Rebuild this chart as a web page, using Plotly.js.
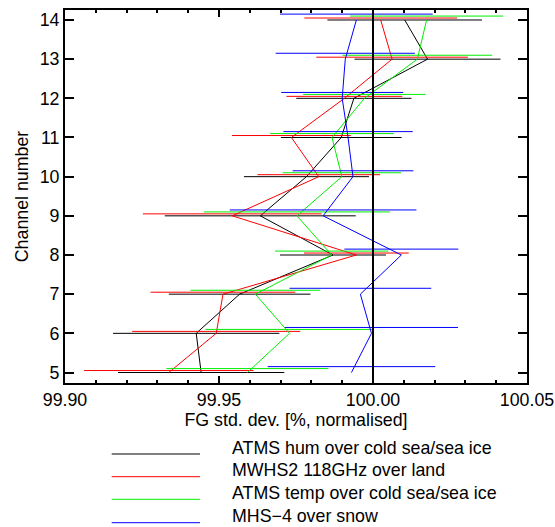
<!DOCTYPE html>
<html>
<head>
<meta charset="utf-8">
<script src="https://cdn.plot.ly/plotly-3.0.1.min.js"></script>
<style>
html,body{margin:0;padding:0;background:#fff;}
#chart{width:555px;height:527px;}
</style>
</head>
<body>
<div id="chart"></div>
<script>
// ---- data ----
var channels = [5, 6, 7, 8, 9, 10, 11, 12, 13, 14];

var seriesNames = [
  "ATMS hum over cold sea/sea ice",
  "MWHS2 118GHz over land",
  "ATMS temp over cold sea/sea ice",
  "MHS\u22124 over snow"
];

var atmsHum      = [99.9442, 99.9426, 99.9567, 99.9870, 99.9634, 99.9784, 99.9897, 99.9938, 100.0177, 100.0103];
var atmsHumErr   = [0.0270, 0.0270, 0.0230, 0.0172, 0.0310, 0.0203, 0.0196, 0.0187, 0.0237, 0.0251];

var mwhs2        = [99.9337, 99.9491, 99.9513, 99.9946, 99.9543, 99.9824, 99.9735, 99.9907, 100.0062, 100.0025];
var mwhs2Err     = [0.0275, 0.0273, 0.0235, 0.0170, 0.0290, 0.0199, 0.0193, 0.0188, 0.0246, 0.0248];

var atmsTemp     = [99.9592, 99.9729, 99.9618, 99.9866, 99.9753, 99.9899, 99.9867, 99.9972, 100.0144, 100.0174];
var atmsTempErr  = [0.0263, 0.0273, 0.0211, 0.0184, 0.0302, 0.0192, 0.0201, 0.0199, 0.0243, 0.0249];

var mhs4         = [99.9930, 99.9995, 99.9959, 100.0092, 99.9838, 99.9935, 99.9919, 99.9900, 99.9910, 99.9946];
var mhs4Err      = [0.0272, 0.0281, 0.0230, 0.0185, 0.0303, 0.0196, 0.0210, 0.0198, 0.0226, 0.0248];

var xTickVals = [99.90, 99.95, 100.00, 100.05];
var xTickText = ["99.90", "99.95", "100.00", "100.05"];
var referenceValue = 100.00;

// ---- styles ----
var colors = ["#000000", "#ff0000", "#00ee00", "#0000ff"];
var barOffsets = [0, 0.05, 0.10, 0.15];
var values = [atmsHum, mwhs2, atmsTemp, mhs4];
var errors = [atmsHumErr, mwhs2Err, atmsTempErr, mhs4Err];

var FONT = "Liberation Sans, Arial, Helvetica, sans-serif";
var FS = 17.8;

var traces = [];
for (var i = 0; i < values.length; i++) {
  var off = barOffsets[i];
  traces.push({
    type: "scatter", mode: "markers",
    x: values[i],
    y: channels.map(function (c) { return c + off; }),
    marker: {size: 0.1, color: colors[i], opacity: 0},
    error_x: {type: "data", array: errors[i], visible: true, color: colors[i], thickness: 1, width: 0},
    showlegend: false, hoverinfo: "skip"
  });
  traces.push({
    type: "scatter", mode: "lines",
    name: seriesNames[i],
    x: values[i], y: channels,
    line: {color: colors[i], width: 1},
    showlegend: false
  });
}

// plot area in pixels
var L = 65, R = 527, T = 10, B = 383;
function px(x) { return (x - L) / (R - L); }
function py(y) { return (B - y) / (B - T); }

var shapes = [{
  type: "line", xref: "x", yref: "paper",
  x0: referenceValue, x1: referenceValue, y0: 0, y1: 1,
  line: {color: "#000", width: 2}
}];
var annotations = [];
var legLineY = [454, 476.7, 499.3, 522.7];
for (var k = 0; k < seriesNames.length; k++) {
  shapes.push({
    type: "line", xref: "paper", yref: "paper",
    x0: px(111.7), x1: px(200), y0: py(legLineY[k]), y1: py(legLineY[k]),
    line: {color: colors[k], width: 1}
  });
  annotations.push({
    xref: "paper", yref: "paper",
    x: px(231), y: py(legLineY[k] - 6.5),
    xanchor: "left", yanchor: "middle",
    text: seriesNames[k], showarrow: false, borderpad: 0,
    font: {family: FONT, size: FS, color: "#000"}
  });
}

var layout = {
  width: 555, height: 527,
  margin: {l: L, r: 555 - R, t: T, b: 527 - B, pad: 0},
  paper_bgcolor: "#fff", plot_bgcolor: "#fff",
  showlegend: false,
  font: {family: FONT, size: FS, color: "#000"},
  xaxis: {
    range: [99.90, 100.05],
    tickvals: xTickVals, ticktext: xTickText,
    ticks: "inside", ticklen: 7, tickwidth: 2, tickcolor: "#000",
    minor: {dtick: 0.01, tick0: 99.90, ticks: "inside", ticklen: 3, tickwidth: 2, tickcolor: "#000", showgrid: false},
    showline: true, linecolor: "#000", linewidth: 2, mirror: "allticks",
    showgrid: false, zeroline: false,
    tickfont: {family: FONT, size: FS},
    title: {text: "FG std. dev. [%, normalised]", font: {family: FONT, size: FS}, standoff: 4},
    automargin: false
  },
  yaxis: {
    range: [4.732, 14.255],
    dtick: 1, tick0: 5,
    ticks: "inside", ticklen: 9, tickwidth: 2, tickcolor: "#000",
    showline: true, linecolor: "#000", linewidth: 2, mirror: "allticks",
    showgrid: false, zeroline: false,
    tickfont: {family: FONT, size: FS},
    title: {text: "Channel number", font: {family: FONT, size: FS}, standoff: 6},
    automargin: false
  },
  shapes: shapes,
  annotations: annotations
};

Plotly.newPlot("chart", traces, layout, {staticPlot: true, displayModeBar: false});
</script>
</body>
</html>
